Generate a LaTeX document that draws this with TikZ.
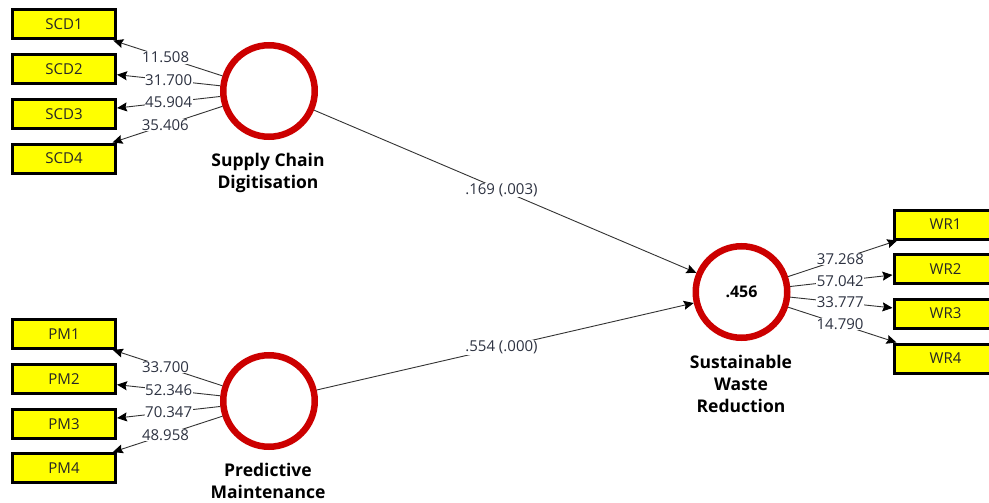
\documentclass[tikz,border=0pt]{standalone}
\usepackage{fontspec}
\setmainfont{Open Sans}
\usetikzlibrary{arrows.meta}
\definecolor{lvred}{RGB}{204,0,0}
\definecolor{indyel}{RGB}{255,255,0}
\definecolor{numcol}{RGB}{45,50,65}
\begin{document}
\begin{tikzpicture}[x=1pt,y=-1pt,
  ind/.style={draw=black,line width=3pt,fill=indyel,minimum width=103pt,minimum height=29pt,inner sep=0pt,text=black!85,font=\fontsize{15}{18}\selectfont},
  lv/.style={circle,draw=lvred,line width=6.5pt,minimum size=91.5pt,inner sep=0pt,font=\fontsize{16}{18}\selectfont\bfseries},
  conn/.style={draw=black!80,line width=0.9pt,-{Stealth[length=10pt,width=9pt,inset=1.5pt,color=black,fill=black]}},
  num/.style={fill=white,inner sep=0.6pt,text=numcol,font=\fontsize{15}{18}\selectfont},
  lvlab/.style={align=center,font=\fontsize{17.5}{22}\selectfont\bfseries}
]
\fill[white] (0,0) rectangle (989,503);
\useasboundingbox (0,0) rectangle (989,503);
\begin{scope}
\clip (0,0) rectangle (989,503);
% indicator boxes
\node[ind] (scd1) at (64,24.5) {SCD1};
\node[ind] (scd2) at (64,69) {SCD2};
\node[ind] (scd3) at (64,114) {SCD3};
\node[ind] (scd4) at (64,158.5) {SCD4};
\node[ind] (pm1) at (64,334) {PM1};
\node[ind] (pm2) at (64,379) {PM2};
\node[ind] (pm3) at (64,424) {PM3};
\node[ind] (pm4) at (64,468) {PM4};
\node[ind] (wr1) at (945.5,224.5) {WR1};
\node[ind] (wr2) at (945.5,269) {WR2};
\node[ind] (wr3) at (945.5,313.5) {WR3};
\node[ind] (wr4) at (945.5,358.5) {WR4};
% latent variables
\node[lv] (scd) at (269,91) {};
\node[lv] (pm) at (269,401) {};
\node[lv] (swr) at (741.5,292) {.456};
\node[lvlab] (scdlab) at (268,173) {Supply Chain\\Digitisation};
\node[lvlab] (pmlab) at (268,481) {Predictive\\Maintenance};
\node[lvlab] (swrlab) at (741,384) {Sustainable\\Waste\\Reduction};
% outer loadings
\draw[conn] (scd) -- node[num,pos=0.52] (l1) {11.508} (scd1);
\draw[conn] (scd) -- node[num,pos=0.5] (l2) {31.700} (scd2);
\draw[conn] (scd) -- node[num,pos=0.5] (l3) {45.904} (scd3);
\draw[conn] (scd) -- node[num,pos=0.52] (l4) {35.406} (scd4);
\draw[conn] (pm) -- node[num,pos=0.52] (l5) {33.700} (pm1);
\draw[conn] (pm) -- node[num,pos=0.5] (l6) {52.346} (pm2);
\draw[conn] (pm) -- node[num,pos=0.5] (l7) {70.347} (pm3);
\draw[conn] (pm) -- node[num,pos=0.52] (l8) {48.958} (pm4);
\draw[conn] (swr) -- node[num,pos=0.48] (l9) {37.268} (wr1);
\draw[conn] (swr) -- node[num,pos=0.49] (l10) {57.042} (wr2);
\draw[conn] (swr) -- node[num,pos=0.49] (l11) {33.777} (wr3);
\draw[conn] (swr) -- node[num,pos=0.48] (l12) {14.790} (wr4);
% structural paths
\draw[conn] (scd) -- node[num,pos=0.49] (p1) {.169 (.003)} (swr);
\draw[conn] (pm) -- node[num,pos=0.49] (p2) {.554 (.000)} (swr);
\end{scope}
\end{tikzpicture}
\end{document}
